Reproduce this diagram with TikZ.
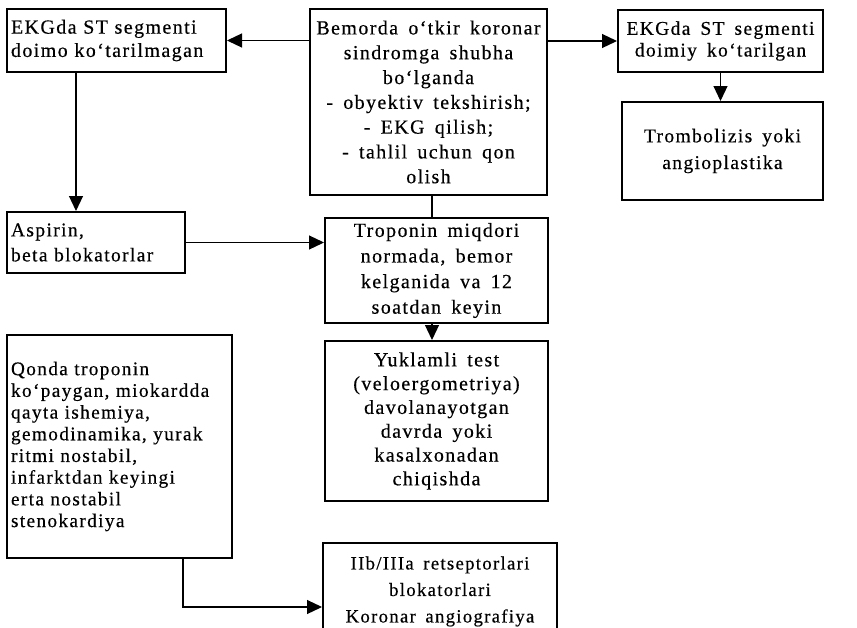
\documentclass[tikz,border=0pt]{standalone}
\usepackage{fontspec}
\setmainfont[LetterSpace=7,WordSpace=1.6,FakeBold=0.4]{Liberation Serif}
\usepackage{tikz}
\usetikzlibrary{positioning,arrows.meta}

\begin{document}
\begin{tikzpicture}[x=1pt,y=-1pt,->,>={Triangle[length=15pt,width=14pt]},line width=1.2pt]
  \tikzstyle{box}=[draw,line width=2pt,align=center,inner sep=3pt]
  \tikzstyle{lbox}=[box,align=left,inner sep=4pt]

  \useasboundingbox (0,0) rectangle (857,627);

  \node[lbox,font=\fontsize{20}{23.3}\selectfont,minimum width=219pt,minimum height=63pt,text width=211pt] (ka) at (116.5,40.5) {EKGda ST segmenti\\doimo ko‘tarilmagan};
  \node[box,font=\fontsize{20}{24.8}\selectfont,minimum width=237pt,minimum height=186pt] (cent) at (428.5,102) {Bemorda o‘tkir koronar\\sindromga shubha\\bo‘lganda\\- obyektiv tekshirish;\\- EKG qilish;\\- tahlil uchun qon\\olish};
  \node[box,font=\fontsize{19.5}{21.7}\selectfont,minimum width=205pt,minimum height=62pt] (kb) at (720.5,41) {EKGda ST segmenti\\doimiy ko‘tarilgan};
  \node[box,font=\fontsize{19.5}{26.7}\selectfont,minimum width=201pt,minimum height=98pt] (tromb) at (722.5,151) {Trombolizis yoki\\angioplastika};
  \node[lbox,font=\fontsize{19.5}{25}\selectfont,minimum width=178pt,minimum height=61pt,text width=170pt] (asp) at (96,242.5) {Aspirin,\\beta blokatorlar};
  \node[box,font=\fontsize{20}{25.6}\selectfont,minimum width=223pt,minimum height=105pt] (trop) at (436.5,270.5) {Troponin miqdori\\normada, bemor\\kelganida va 12\\soatdan keyin};
  \node[box,font=\fontsize{20}{23.8}\selectfont,minimum width=223pt,minimum height=160pt] (yuk) at (436.5,421) {Yuklamli test\\(veloergometriya)\\davolanayotgan\\davrda yoki\\kasalxonadan\\chiqishda};
  \node[lbox,font=\fontsize{19.3}{21.7}\selectfont,minimum width=225pt,minimum height=223pt,text width=217pt] (qon) at (119.5,446.5) {Qonda troponin\\ko‘paygan, miokardda\\qayta ishemiya,\\gemodinamika, yurak\\ritmi nostabil,\\infarktdan keyingi\\erta nostabil\\stenokardiya};
  \node[box,font=\fontsize{18.7}{26.5}\selectfont,minimum width=234pt,minimum height=97pt] (iib) at (440,591.5) {IIb/IIIa retseptorlari\\blokatorlari\\Koronar angiografiya};

  \coordinate (down) at (76,100);
  \coordinate (turn) at (183,607);

  \draw (cent.west |- ka.east) -- (ka.east);
  \draw (cent.east |- kb.west) -- (kb.west);
  \draw (kb.south) -- (kb.south |- tromb.north);
  \draw (ka.south -| down) -- (down |- asp.north);
  \draw (asp.east) -- (asp.east -| trop.west);
  \draw[-] ([xshift=3.5pt]cent.south) -- ([xshift=3.5pt]cent.south |- trop.north);
  \draw ([xshift=-4.5pt]trop.south) -- ([xshift=-4.5pt]trop.south |- yuk.north);
  \draw (qon.south -| turn) -- (turn) -- (turn -| iib.west);

\end{tikzpicture}
\end{document}
